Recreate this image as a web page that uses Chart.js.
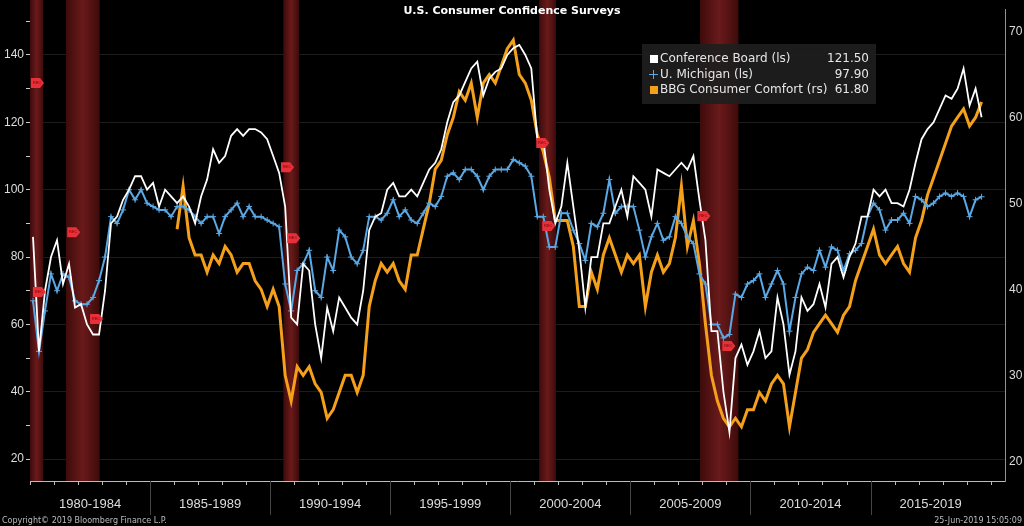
<!DOCTYPE html>
<html>
<head>
<meta charset="utf-8">
<script src="https://cdn.jsdelivr.net/npm/chart.js@4.4.0/dist/chart.umd.min.js"></script>
<style>
  html, body { margin: 0; padding: 0; background: #000; }
  #wrap { position: relative; width: 1024px; height: 526px; }
  .foot { position: absolute; bottom: 1px; font: 8px "DejaVu Sans", sans-serif; color: #bbb; }
</style>
</head>
<body>
<div id="wrap">
  <canvas id="myChart" width="1024" height="526"></canvas>
  <div class="foot" style="left:2px">Copyright© 2019 Bloomberg Finance L.P.</div>
  <div class="foot" style="right:2px">25-Jun-2019 15:05:09</div>
</div>
<script>
// quarterly readings, first quarter of 1980 onward
const startYear = 1980;
const confBoard = [
  86, 52, 70, 80,   85, 72, 78, 65,   66, 60, 57, 57,   70, 90, 92, 97,
  100, 104, 104, 100,   102, 95, 100, 98,   96, 98, 95, 90,   98, 103, 112, 108,
  110, 116, 118, 116,   118, 118, 117, 115,   110, 105, 95, 62,   60, 78, 76, 60,
  50, 65, 58, 68,   65, 62, 60, 70,   88, 92, 93, 100,   102, 98, 98, 100,
  98, 102, 106, 108,   112, 120, 126, 128,   132, 136, 138, 128,   133, 135, 136, 140,
  142, 143, 140, 136,   115, 115, 100, 90,   95, 108, 95, 82,   65, 80, 80, 90,
  90, 95, 100, 92,   104, 102, 100, 92,   106, 105, 104, 106,   108, 106, 110, 97,
  85, 58, 58, 40,   28, 50, 54, 48,   52, 58, 50, 52,   68, 60, 45, 52,
  68, 64, 66, 72,   65, 78, 80, 74,   80, 84, 92, 92,   100, 98, 100, 96,
  96, 95, 100, 108,   115, 118, 120, 124,   128, 127, 130, 136,   125, 130, 121.5
];
const michigan = [
  67, 52, 64, 75,   70, 75, 74, 67,   66, 66, 68, 73,   80, 92, 90, 94,
  100, 97, 100, 96,   95, 94, 94, 92,   95, 95, 94, 92,   90, 92, 92, 87,
  92, 94, 96, 92,   95, 92, 92, 91,   90, 89, 72, 64,   76, 78, 82, 70,
  68, 80, 76, 88,   86, 80, 78, 82,   92, 92, 91, 93,   97, 92, 94, 91,
  90, 93, 96, 95,   98, 104, 105, 103,   106, 106, 104, 100,   104, 106, 106, 106,
  109, 108, 107, 104,   92, 92, 83, 83,   93, 93, 88, 84,   79, 90, 89, 93,
  103, 93, 95, 95,   95, 88, 80, 86,   90, 85, 86, 92,   90, 86, 84, 75,
  72, 60, 60, 56,   57, 69, 68, 72,   73, 75, 68, 72,   76, 72, 58, 68,
  75, 77, 76, 82,   77, 83, 82, 76,   81, 82, 84, 92,   96, 94, 88, 91,
  91, 93, 90, 98,   97, 95, 96, 98,   99, 98, 99, 98,   92, 97, 97.9
];
// BBG comfort, first quarter of 1986 onward (right scale)
const bbgStart = 1986;
const bbgComfort = [
  47, 52, 46, 44,   44, 42, 44, 43,   45, 44, 42, 43,   43, 41, 40, 38,
  40, 38, 30, 27,   31, 30, 31, 29,   28, 25, 26, 28,   30, 30, 28, 30,
  38, 41, 43, 42,   43, 41, 40, 44,   44, 47, 50, 54,   55, 58, 60, 63,
  62, 64, 60, 64,   65, 64, 66, 68,   69, 65, 64, 62,   58, 56, 53, 48,
  48, 48, 45, 38,   38, 42, 40, 44,   46, 44, 42, 44,   43, 44, 38, 42,
  44, 42, 43, 46,   52, 45, 48, 43,   36, 30, 27, 25,   24, 25, 24, 26,
  26, 28, 27, 29,   30, 29, 24, 28,   32, 33, 35, 36,   37, 36, 35, 37,
  38, 41, 43, 45,   47, 44, 43, 44,   45, 43, 42, 46,   48, 51, 53, 55,
  57, 59, 60, 61,   59, 60, 61.8
];
const periodLabels = ['1980-1984', '1985-1989', '1990-1994', '1995-1999', '2000-2004', '2005-2009', '2010-2014', '2015-2019'];
const recessions = [[1980.0, 1980.55], [1981.5, 1982.9], [1990.55, 1991.2], [2001.2, 2001.9], [2007.9, 2009.5]];
const recMarks = [[1980.29, 131.7], [1980.37, 69.6], [1981.8, 87.4], [1982.75, 61.6], [1990.7, 106.7],
  [1990.96, 85.6], [2001.33, 113.9], [2001.58, 89.2], [2008.04, 92.2], [2009.08, 53.6]];

const toPts = (arr, y0) => arr.map((v, i) => ({ x: y0 + i * 0.25 + 0.125, y: v }));

const bgPlugin = {
  id: 'bg',
  beforeDatasetsDraw(chart) {
    const { ctx, chartArea: a, scales: { x } } = chart;
    ctx.save();
    recessions.forEach(([s, e]) => {
      const x0 = x.getPixelForValue(s), x1 = x.getPixelForValue(e);
      const g = ctx.createLinearGradient(x0, 0, x1, 0);
      g.addColorStop(0, '#3e0b0b');
      g.addColorStop(0.5, '#6a1a1a');
      g.addColorStop(1, '#3e0b0b');
      ctx.fillStyle = g;
      ctx.fillRect(x0, 0, x1 - x0, a.bottom);
    });
    ctx.restore();
  },
  afterDatasetsDraw(chart) {
    const { ctx, scales: { x, y } } = chart;
    ctx.save();
    // REC badges
    recMarks.forEach(([yr, v]) => {
      const px = x.getPixelForValue(yr), py = y.getPixelForValue(v);
      ctx.fillStyle = '#e8303a';
      ctx.beginPath();
      ctx.moveTo(px - 6, py - 5);
      ctx.lineTo(px + 3, py - 5);
      ctx.lineTo(px + 7, py);
      ctx.lineTo(px + 3, py + 5);
      ctx.lineTo(px - 6, py + 5);
      ctx.closePath();
      ctx.fill();
      ctx.fillStyle = '#700';
      ctx.font = '4px sans-serif';
      ctx.textAlign = 'center';
      ctx.textBaseline = 'middle';
      ctx.fillText('REC', px, py);
    });
    // title
    ctx.fillStyle = '#fff';
    ctx.font = 'bold 11px "DejaVu Sans"';
    ctx.textAlign = 'center';
    ctx.textBaseline = 'middle';
    ctx.fillText('U.S. Consumer Confidence Surveys', 512, 11);
    // legend
    ctx.fillStyle = 'rgba(30,30,30,0.92)';
    ctx.fillRect(642, 44, 234, 60);
    ctx.font = '12px "DejaVu Sans"';
    ctx.textBaseline = 'middle';
    const rows = [
      ['Conference Board (ls)', '121.50', '#fff', 'sq'],
      ['U. Michigan (ls)', '97.90', '#5aa9e6', 'cross'],
      ['BBG Consumer Comfort (rs)', '61.80', '#f5a01a', 'sq']
    ];
    rows.forEach(([t, v, c, m], i) => {
      const ry = 59 + i * 15.5;
      if (m === 'sq') { ctx.fillStyle = c; ctx.fillRect(650, ry - 4, 8, 8); }
      else {
        ctx.strokeStyle = c; ctx.lineWidth = 1;
        ctx.beginPath(); ctx.moveTo(649, ry); ctx.lineTo(658, ry); ctx.moveTo(653.5, ry - 4.5); ctx.lineTo(653.5, ry + 4.5); ctx.stroke();
      }
      ctx.fillStyle = '#e6e6e6';
      ctx.textAlign = 'left';
      ctx.fillText(t, 660, ry);
      ctx.textAlign = 'right';
      ctx.fillText(v, 869, ry);
    });
    ctx.restore();
  },
  afterDraw(chart) {
    const { ctx, chartArea: a, scales: { x } } = chart;
    ctx.save();
    ctx.strokeStyle = '#bbb';
    ctx.lineWidth = 1;
    ctx.beginPath();
    ctx.moveTo(a.left, a.bottom + 0.5); ctx.lineTo(a.right, a.bottom + 0.5);
    for (let yr = 1980; yr <= 2020; yr++) {
      const px = Math.round(x.getPixelForValue(yr)) + 0.5;
      ctx.moveTo(px, a.bottom); ctx.lineTo(px, a.bottom + 4);
    }
    ctx.stroke();
    ctx.strokeStyle = '#444';
    ctx.beginPath();
    for (let yr = 1985; yr <= 2015; yr += 5) {
      const px = Math.round(x.getPixelForValue(yr)) + 0.5;
      ctx.moveTo(px, a.bottom); ctx.lineTo(px, a.bottom + 34);
    }
    ctx.stroke();
    ctx.restore();
  }
};

new Chart(document.getElementById('myChart'), {
  type: 'line',
  data: {
    datasets: [
      {
        label: 'BBG Consumer Comfort (rs)',
        data: toPts(bbgComfort, bbgStart),
        yAxisID: 'y1',
        borderColor: '#f5a01a',
        borderWidth: 3,
        pointRadius: 0,
        order: 3
      },
      {
        label: 'U. Michigan (ls)',
        data: toPts(michigan, startYear),
        yAxisID: 'y',
        borderColor: '#5aa9e6',
        borderWidth: 2,
        pointStyle: 'cross',
        pointRadius: 3,
        pointBorderColor: '#5aa9e6',
        pointBorderWidth: 1,
        order: 2
      },
      {
        label: 'Conference Board (ls)',
        data: toPts(confBoard, startYear),
        yAxisID: 'y',
        borderColor: '#ffffff',
        borderWidth: 1.8,
        pointRadius: 0,
        order: 1
      }
    ]
  },
  options: {
    responsive: false,
    animation: false,
    layout: { padding: { top: 0 } },
    plugins: { legend: { display: false }, tooltip: { enabled: false } },
    scales: {
      x: {
        type: 'linear',
        min: 1980,
        max: 2020.6,
        afterBuildTicks: s => { s.ticks = periodLabels.map((l, i) => ({ value: 1982.5 + i * 5 })); },
        afterFit: s => { s.height = 45; },
        ticks: {
          callback: (v, i) => periodLabels[i],
          color: '#ddd',
          font: { size: 13, family: 'Liberation Sans' },
          padding: 8,
          maxRotation: 0
        },
        grid: { display: false },
        border: { display: false }
      },
      y: {
        position: 'left',
        min: 13.5,
        max: 153.6,
        afterBuildTicks: s => { s.ticks = [20, 30, 40, 50, 60, 70, 80, 90, 100, 110, 120, 130, 140, 150].map(v => ({ value: v })); },
        afterFit: s => { s.width = 30; },
        ticks: {
          color: '#ddd',
          font: { size: 12, family: 'Liberation Sans' },
          padding: 2,
          callback: v => (v % 20 === 0 ? v : '')
        },
        grid: {
          color: ctx => (ctx.tick && ctx.tick.value % 20 === 0 ? '#1c1c1c' : 'rgba(0,0,0,0)'),
          tickColor: '#ccc',
          tickLength: 4
        },
        border: { color: '#ccc' }
      },
      y1: {
        position: 'right',
        min: 17.7,
        max: 72.6,
        afterBuildTicks: s => { s.ticks = [20, 25, 30, 35, 40, 45, 50, 55, 60, 65, 70].map(v => ({ value: v })); },
        afterFit: s => { s.width = 19; },
        ticks: {
          color: '#ddd',
          font: { size: 12, family: 'Liberation Sans' },
          padding: 1,
          callback: v => (v % 10 === 0 ? v : '')
        },
        grid: { display: false, drawOnChartArea: false, tickColor: '#c88a2a', tickLength: 3 },
        border: { color: '#c88a2a' }
      }
    }
  },
  plugins: [bgPlugin]
});
</script>
</body>
</html>
